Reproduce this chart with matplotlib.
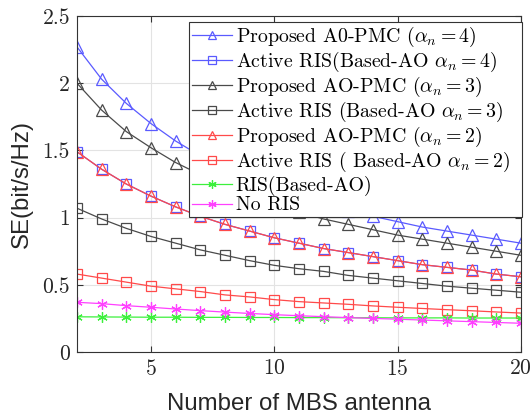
import matplotlib
matplotlib.use("Agg")
import matplotlib.pyplot as plt

plt.rcParams['mathtext.fontset'] = 'cm'
plt.rcParams['axes.formatter.use_mathtext'] = True

antennas = list(range(2, 21))

# Proposed AO-PMC, alpha_n = 4
prop_a4 = [2.27, 2.03, 1.85, 1.70, 1.57, 1.46, 1.37, 1.29, 1.22, 1.16,
           1.10, 1.05, 1.01, 0.97, 0.93, 0.90, 0.87, 0.84, 0.81]
# Active RIS, alpha_n = 4
act_a4 = [1.49, 1.36, 1.25, 1.16, 1.08, 1.01, 0.95, 0.90, 0.85, 0.81,
          0.77, 0.74, 0.71, 0.68, 0.65, 0.63, 0.61, 0.58, 0.56]
# Proposed AO-PMC, alpha_n = 3
prop_a3 = [2.00, 1.80, 1.64, 1.52, 1.41, 1.32, 1.24, 1.17, 1.10, 1.04,
           0.99, 0.95, 0.91, 0.87, 0.84, 0.81, 0.78, 0.75, 0.72]
# Active RIS, alpha_n = 3
act_a3 = [1.07, 0.99, 0.92, 0.86, 0.81, 0.76, 0.72, 0.68, 0.645, 0.62,
          0.60, 0.57, 0.55, 0.53, 0.51, 0.49, 0.475, 0.46, 0.445]
# Proposed AO-PMC, alpha_n = 2
prop_a2 = [1.49, 1.36, 1.25, 1.16, 1.08, 1.01, 0.95, 0.90, 0.85, 0.81,
           0.77, 0.74, 0.71, 0.68, 0.65, 0.63, 0.61, 0.58, 0.56]
# Active RIS, alpha_n = 2
act_a2 = [0.58, 0.55, 0.52, 0.49, 0.47, 0.45, 0.425, 0.41, 0.39, 0.375,
          0.365, 0.355, 0.343, 0.333, 0.324, 0.315, 0.307, 0.298, 0.29]
# RIS (Based-AO)
ris_ao = [0.262, 0.261, 0.260, 0.259, 0.259, 0.258, 0.258, 0.257, 0.257, 0.256,
          0.256, 0.255, 0.255, 0.254, 0.254, 0.254, 0.253, 0.253, 0.253]
# No RIS
no_ris = [0.37, 0.36, 0.345, 0.333, 0.32, 0.308, 0.297, 0.287, 0.278, 0.27,
          0.263, 0.256, 0.25, 0.244, 0.238, 0.232, 0.226, 0.22, 0.214]

labels = [r"Proposed A0-PMC ($\alpha_n = 4$)",
          r"Active RIS(Based-AO $\alpha_n = 4$)",
          r"Proposed AO-PMC ($\alpha_n = 3$)",
          r"Active RIS (Based-AO $\alpha_n = 3$)",
          r"Proposed AO-PMC ($\alpha_n = 2$)",
          r"Active RIS ( Based-AO $\alpha_n = 2$)",
          "RIS(Based-AO)",
          "No RIS"]

blue = '#5a5aff'
gray = '#4a4a4a'
red = '#ff4a4a'
green = '#3cf03c'
magenta = '#ff40ff'
asterisk = (6, 2, 0)

fig = plt.figure(figsize=(5.32, 4.16), dpi=100)
ax = fig.add_axes([0.1447, 0.1538, 0.8343, 0.8077])

series = [
    (prop_a4, blue, '^', 9),
    (act_a4, blue, 's', 7),
    (prop_a3, gray, '^', 9),
    (act_a3, gray, 's', 7),
    (prop_a2, red, '^', 9),
    (act_a2, red, 's', 7),
    (ris_ao, green, asterisk, 7.5),
    (no_ris, magenta, asterisk, 7.5),
]
for (vals, col, mk, ms), lab in zip(series, labels):
    ax.plot(antennas, vals, color=col, marker=mk, markersize=ms,
            markerfacecolor='none', markeredgecolor=col, linewidth=0.9,
            markeredgewidth=0.9, label=lab)

ax.set_xlim(2, 20)
ax.set_ylim(0, 2.5)
ax.set_xticks([5, 10, 15, 20])
ax.set_yticks([0, 0.5, 1, 1.5, 2, 2.5])
ax.set_yticklabels(['0', '0.5', '1', '1.5', '2', '2.5'])
for t in ax.get_xticklabels() + ax.get_yticklabels():
    t.set_fontfamily('cmr10')
    t.set_fontsize(15.5)
ax.tick_params(direction='in', length=4, color='#333333', top=True, right=True,
               labelcolor='#262626', pad=5)
ax.grid(True, color='#e3e3e3', linewidth=0.8)
ax.set_axisbelow(True)
for s in ax.spines.values():
    s.set_color('#333333')
    s.set_linewidth(0.8)

ax.set_xlabel("Number of MBS antenna", fontfamily='Liberation Sans', fontsize=17.3,
              color='#262626', labelpad=10)
ax.set_ylabel("SE(bit/s/Hz)", fontfamily='Liberation Sans', fontsize=17.3,
              color='#262626', labelpad=7)

leg = ax.legend(loc='upper left', bbox_to_anchor=(0.252, 0.0, 0.75, 0.983),
                mode='expand', borderaxespad=0,
                prop={'family': 'cmr10', 'size': 14.3}, fancybox=False,
                edgecolor='#333333', framealpha=1, handlelength=2.0,
                handletextpad=0.2, labelspacing=0.05, borderpad=0.15)
leg.get_frame().set_linewidth(0.8)
for h in leg.legend_handles:
    h.set_markersize(6)

fig.savefig("out.png", dpi=100)
